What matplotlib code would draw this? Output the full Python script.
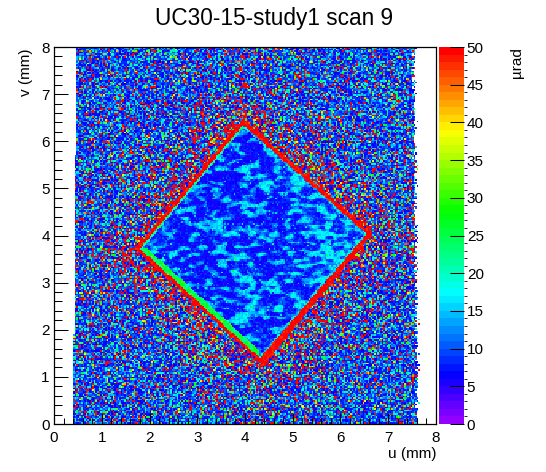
import colorsys
import numpy as np
import matplotlib
matplotlib.use("Agg")
import matplotlib.pyplot as plt
from matplotlib.colors import ListedColormap, BoundaryNorm
from matplotlib.ticker import MultipleLocator

plt.rcParams['font.family'] = ['Liberation Sans', 'DejaVu Sans']

title = "UC30-15-study1 scan 9"
u_label = "u (mm)"
v_label = "v (mm)"
z_label = "µrad"

# histogram binning (mm)
n_bins = 240
u_range = (0.0, 8.0)
v_range = (0.0, 8.0)
z_ticks = [0, 5, 10, 15, 20, 25, 30, 35, 40, 45, 50]
n_levels = 50

# scanned area: edge u at v=0 and at v=8
data_left = [0.40, 0.47]
data_right = [7.62, 7.54]

# diamond corners (top, right, bottom, left)
corner_u = [3.96, 6.55, 4.31, 1.80]
corner_v = [6.35, 4.03, 1.40, 3.72]

# per edge: top-right, right-bottom, bottom-left, left-top
red_band = [0.09, 0.09, 0.06, 0.08]        # red rim width outside (mm)
red_band_grow = [0.0, 0.07, 0.02, 0.0]     # extra width at end of edge
inner_band = [0.04, 0.04, 0.11, 0.04]      # lighter rim inside (mm)
inner_level = [14, 16, 25, 21]             # µrad of the inner rim

# typical levels (µrad)
outside_base = 6.0
outside_shape = 0.8
outside_scale = 7.0
red_far = 0.10
red_near = 0.45
halo_width = 0.6
inside_low = 6.5
inside_high = 16.5
inside_tilt = 0.6      # µrad per mm towards +u

# speckle texture cannot be read bin by bin: fixed-seed texture
rng = np.random.default_rng(9)

edges_u = np.linspace(*u_range, n_bins + 1)
edges_v = np.linspace(*v_range, n_bins + 1)
cu = 0.5 * (edges_u[1:] + edges_u[:-1])
cv = 0.5 * (edges_v[1:] + edges_v[:-1])
U, V = np.meshgrid(cu, cv)

# signed distance to each diamond edge (positive = outside)
dist = []
tpar = []
for i in range(4):
    j = (i + 1) % 4
    du = corner_u[j] - corner_u[i]
    dv = corner_v[j] - corner_v[i]
    ln = np.hypot(du, dv)
    dist.append(((U - corner_u[i]) * (-dv) + (V - corner_v[i]) * du) / ln)
    tpar.append(np.clip(((U - corner_u[i]) * du + (V - corner_v[i]) * dv) / ln**2, 0, 1))
dist = np.array(dist)
tpar = np.array(tpar)
dmax = dist.max(axis=0)
which = dist.argmax(axis=0)
tsel = np.take_along_axis(tpar, which[None], 0)[0]

red_w = np.array(red_band)[which] + np.array(red_band_grow)[which] * tsel
in_w = np.array(inner_band)[which]
in_lvl = np.array(inner_level)[which]

# outside: speckle with a red halo near the diamond
Z = outside_base + rng.gamma(outside_shape, outside_scale, U.shape)
p_red = red_far + (red_near - red_far) * np.exp(-np.clip(dmax, 0, None) / halo_width)
hot = rng.random(U.shape) < p_red
Z[hot] = 50 + 5 * rng.random(hot.sum())
warm = (rng.random(U.shape) < 0.45 * p_red) & ~hot
Z[warm] = 22 + 26 * rng.random(warm.sum())

# red rim
rim = (dmax > 0) & (dmax < red_w)
Z[rim] = 47 + 8 * rng.random(rim.sum())

# inside: worm-like blue / cyan texture
noise = rng.standard_normal(U.shape)
ku = np.fft.fftfreq(n_bins)
KU, KV = np.meshgrid(ku, ku)
filt = np.exp(-2 * np.pi**2 * ((KU * 1.6)**2 + (KV * 0.9)**2))
field = np.real(np.fft.ifft2(np.fft.fft2(noise) * filt))
field = (field - field.mean()) / field.std()
left_boost = 4 * np.exp(-np.hypot(U - corner_u[3], V - corner_v[3]) / 0.7)
step = 1 / (1 + np.exp(-3.0 * (field - 0.55)))
inner = (inside_low + (inside_high - inside_low) * step + inside_tilt * (U - 4.2)
         + left_boost + 1.5 * rng.standard_normal(U.shape))
green = rng.random(U.shape) < 0.02
inner[green] += 8
inside = dmax <= 0
Z[inside] = np.clip(inner[inside], 5.5, 40)
band = inside & (-dmax < in_w)
Z[band] = in_lvl[band] + 3 * rng.standard_normal(band.sum())

# scanned area
lo = data_left[0] + (data_left[1] - data_left[0]) * V / 8
hi = data_right[0] + (data_right[1] - data_right[0]) * V / 8
hi = hi + 0.03 * rng.standard_normal(U.shape)
Z = np.ma.masked_where((U < lo) | (U > hi), Z)

# ROOT "pretty" palette: 50 HLS colours, hue 280 -> 0
pal = []
for i in range(n_levels - 1):
    hue = 280 - (i + 1) * 280 / n_levels
    pal.append(colorsys.hls_to_rgb(hue / 360, 0.5, 1.0))
pal.append((1.0, 0.0, 0.0))
cmap = ListedColormap(pal)
norm = BoundaryNorm(np.linspace(0, 50, n_levels + 1), n_levels, clip=True)

W, H = 546, 472
fig = plt.figure(figsize=(W / 100, H / 100), dpi=100)
ax = fig.add_axes([54 / W, 1 - 424 / H, 382 / W, 377 / H])
cax = fig.add_axes([439 / W, 1 - 424 / H, 25 / W, 377 / H])

im = ax.pcolormesh(edges_u, edges_v, Z, cmap=cmap, norm=norm, shading='flat')
ax.set_xlim(*u_range)
ax.set_ylim(*v_range)
ax.xaxis.set_major_locator(MultipleLocator(1))
ax.yaxis.set_major_locator(MultipleLocator(1))
ax.xaxis.set_minor_locator(MultipleLocator(0.2))
ax.yaxis.set_minor_locator(MultipleLocator(0.2))
ax.tick_params(axis='both', which='both', direction='in', width=0.75,
               labelsize=11, top=False, right=False)
ax.tick_params(axis='x', which='major', length=8, pad=5)
ax.tick_params(axis='x', which='minor', length=4)
ax.tick_params(axis='y', which='major', length=10, pad=3)
ax.tick_params(axis='y', which='minor', length=5.5)
for s in ax.spines.values():
    s.set_linewidth(0.9)

cb = fig.colorbar(im, cax=cax, ticks=z_ticks)
cb.outline.set_visible(False)
cax.yaxis.set_ticks_position('right')
cax.tick_params(direction='in', length=10, width=0.75, labelsize=11, pad=2)

fig.text(274 / W, 1 - 18 / H, title, ha='center', va='center', fontsize=16.3)
fig.text(437 / W, 1 - 454 / H, u_label, ha='right', va='center', fontsize=11)
fig.text(26 / W, 1 - 48 / H, v_label, ha='center', va='top', rotation=90, fontsize=11)
fig.text(517 / W, 1 - 47 / H, z_label, ha='center', va='top', rotation=90, fontsize=11)

fig.savefig("out.png", dpi=100)
